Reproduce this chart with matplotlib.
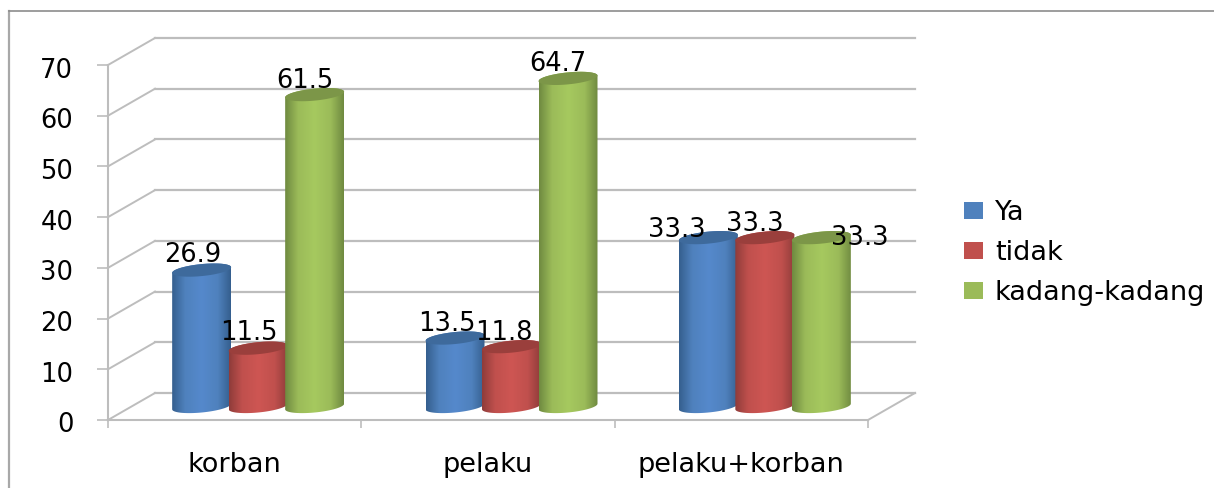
#!/usr/bin/env python3
"""Fake-3D cylinder column chart: korban / pelaku / pelaku+korban."""
import numpy as np
import matplotlib
matplotlib.use("Agg")
import matplotlib.pyplot as plt
from matplotlib.colors import LinearSegmentedColormap
from matplotlib.patches import Patch, PathPatch
from matplotlib.path import Path
from matplotlib.transforms import ScaledTranslation

categories = ["korban", "pelaku", "pelaku+korban"]
series_names = ["Ya", "tidak", "kadang-kadang"]
ya_values = [26.9, 13.5, 33.3]
tidak_values = [11.5, 11.8, 33.3]
kadang_values = [61.5, 64.7, 33.3]
y_ticks = [0, 10, 20, 30, 40, 50, 60, 70]

# label nudges in pixels, per series then category (labels sit off-centre in the original)
LABEL_SHIFT = [
    [(-9, 15), (-8, 14), (-32, 8)],
    [(-9, 15), (-8, 14), (-10, 14)],
    [(-10, 14), (-10, 14), (38, 0)],
]

W, H = 1214, 488
AX_L, AX_R, AX_T, AX_B = 108, 868, 65, 420   # front plane, pixels
X_PX = (AX_R - AX_L) / 3.0
Y_PX = (AX_B - AX_T) / 70.0
DX = 47 / X_PX    # depth offset of the back wall
DY = 27 / Y_PX
BAR_W = 59 / X_PX
BAR_STEP = 56.5 / X_PX
ELL_H = 6.0 / Y_PX
TILT = 2.8 / Y_PX

COLORS = ["#4F81BD", "#C0504D", "#9BBB59"]
EDGE = ["#355F8E", "#8F3C3A", "#6F8A40"]
CENTER = ["#5589CC", "#CE5653", "#A6C95F"]
TOP = ["#3E6A9C", "#9A3F3C", "#7C9648"]
GRID = "#BDBDBD"
BORDER = "#8C8C8C"


def ellipse_arc(cx, cy, start, stop, n=40):
    t = np.linspace(start, stop, n)
    c, s = np.cos(t), np.sin(t)
    return cx + BAR_W / 2 * c, cy + ELL_H * s + TILT * c


def draw_cylinder(ax, cx, base, height, idx, z):
    top = base + height
    xb, yb = ellipse_arc(cx, base, np.pi, 2 * np.pi)
    xt, yt = ellipse_arc(cx, top, 0, np.pi)
    verts = np.column_stack([np.r_[xb, xt], np.r_[yb, yt]])
    body = PathPatch(Path(np.vstack([verts, verts[0]]), closed=True),
                     transform=ax.transData, facecolor="none", edgecolor="none")
    ax.add_patch(body)

    cmap = LinearSegmentedColormap.from_list(
        "c", [(0, EDGE[idx]), (0.22, COLORS[idx]), (0.5, CENTER[idx]),
              (0.78, COLORS[idx]), (1, EDGE[idx])])
    im = ax.imshow(np.linspace(0, 1, 128)[None, :], cmap=cmap, aspect="auto",
                   interpolation="bilinear", origin="lower", zorder=z,
                   extent=(cx - BAR_W / 2, cx + BAR_W / 2, base - 2 * ELL_H, top + 2 * ELL_H))
    im.set_clip_path(body)

    xe, ye = ellipse_arc(cx, top, 0, 2 * np.pi, 60)
    ax.fill(xe, ye, color=TOP[idx], zorder=z + 0.1, lw=0, clip_on=False)


def main():
    fig = plt.figure(figsize=(W / 100, H / 100), dpi=100)

    # outer chart border (left and top only, the rest is cropped away)
    fig.add_artist(plt.Line2D([9 / W, 9 / W], [0, 1 - 11 / H], color="#A8A8A8", lw=1.6))
    fig.add_artist(plt.Line2D([9 / W, 1], [1 - 11 / H, 1 - 11 / H], color=BORDER, lw=1.2))

    ax = fig.add_axes([AX_L / W, 1 - AX_B / H, (AX_R - AX_L) / W, (AX_B - AX_T) / H])
    ax.patch.set_alpha(0)

    # walls and gridlines
    for v in y_ticks:
        ax.plot([0, DX], [v, v + DY], color=GRID, lw=1.4, clip_on=False, zorder=1)
        ax.plot([DX, 3 + DX], [v + DY, v + DY], color=GRID, lw=1.6, clip_on=False, zorder=1)
    ax.plot([3, 3 + DX], [0, DY], color=GRID, lw=1.4, clip_on=False, zorder=1)

    # bars
    all_values = [ya_values, tidak_values, kadang_values]
    z = 3
    for c in range(len(categories)):
        center = c + 0.5 + DX / 2
        for s, values in enumerate(all_values):
            cx = center + (s - 1) * BAR_STEP
            base = DY / 2
            draw_cylinder(ax, cx, base, values[c], s, z)
            z += 1
            sx, sy = LABEL_SHIFT[s][c]
            ax.annotate(f"{values[c]:.1f}", (cx, base + values[c]), xytext=(sx, sy),
                        textcoords="offset pixels", ha="center", va="center",
                        fontsize=18.5, color="black", zorder=40, annotation_clip=False)

    ax.set_xlim(0, 3)
    ax.set_ylim(0, 70)

    for name in ("top", "right"):
        ax.spines[name].set_visible(False)
    for name in ("left", "bottom"):
        ax.spines[name].set_color(GRID)
        ax.spines[name].set_linewidth(1.5)

    ax.set_yticks(y_ticks)
    ax.tick_params(axis="y", length=8, width=1.2, color=GRID, pad=17, labelsize=18.5)
    down = ScaledTranslation(0, -2.5 / 100, fig.dpi_scale_trans)
    for lab in ax.get_yticklabels():
        lab.set_transform(lab.get_transform() + down)

    ax.set_xticks([0, 1, 2, 3])
    ax.set_xticklabels([])
    ax.set_xticks([0.5, 1.5, 2.5], minor=True)
    ax.set_xticklabels(categories, minor=True)
    ax.tick_params(axis="x", which="major", length=6, width=1.2, color=GRID)
    ax.tick_params(axis="x", which="minor", length=0, pad=23, labelsize=19.5)

    handles = [Patch(facecolor=col, edgecolor="none") for col in COLORS]
    fig.legend(handles, series_names, loc="center left",
               bbox_to_anchor=(964 / W, 1 - 253 / H), frameon=False, fontsize=19.5,
               borderpad=0, borderaxespad=0, handlelength=0.70, handleheight=0.59,
               handletextpad=0.44, labelspacing=0.52)

    fig.savefig("out.png", dpi=100, facecolor="white")
    plt.close(fig)


if __name__ == "__main__":
    main()
